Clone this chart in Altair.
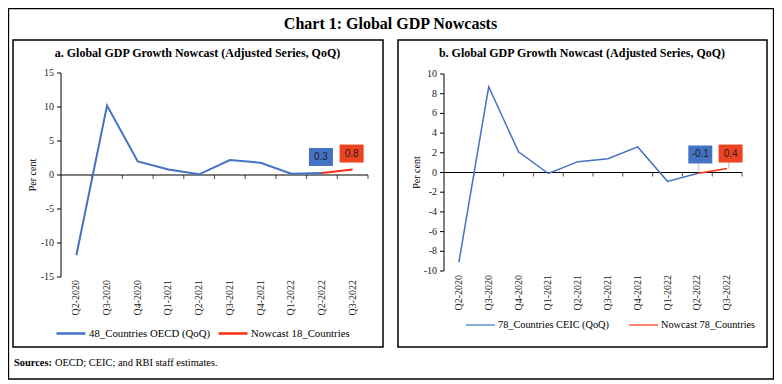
import altair as alt
import pandas as pd

# ---------------- data ----------------
quarters = ["Q2-2020", "Q3-2020", "Q4-2020", "Q1-2021", "Q2-2021",
            "Q3-2021", "Q4-2021", "Q1-2022", "Q2-2022", "Q3-2022"]

a_actual = [-11.8, 10.2, 2.0, 0.8, 0.1, 2.2, 1.8, 0.2, 0.3, None]
a_nowcast = [None, None, None, None, None, None, None, None, 0.3, 0.8]
a_series = ["48_Countries OECD (QoQ)", "Nowcast 18_Countries"]
a_yticks = [-15, -10, -5, 0, 5, 10, 15]

b_actual = [-9.1, 8.7, 2.1, -0.1, 1.1, 1.4, 2.6, -0.9, -0.1, None]
b_nowcast = [None, None, None, None, None, None, None, None, -0.1, 0.4]
b_series = ["78_Countries CEIC (QoQ)", "Nowcast 78_Countries"]
b_yticks = [-10, -8, -6, -4, -2, 0, 2, 4, 6, 8, 10]

main_title = "Chart 1: Global GDP Nowcasts"
a_title = "a. Global GDP Growth Nowcast (Adjusted Series, QoQ)"
b_title = "b. Global GDP Growth Nowcast (Adjusted Series, QoQ)"
y_title = "Per cent"
source_bold = "Sources:"
source_text = "OECD; CEIC; and RBI staff estimates."

# ---------------- style ----------------
FONT = "Liberation Serif"
SANS = "Liberation Sans"
BLUE = "#4472C4"
RED = "#FF2D12"
RED_BOX = "#EE4322"
W, H = 766, 374

one = pd.DataFrame({"k": [0]})


def txt(s, x, y, size, bold=False, align="center", angle=0, baseline="alphabetic", font=FONT):
    kw = dict(text=s, font=font, fontSize=size, align=align, baseline=baseline,
              color="black", fontWeight="bold" if bold else "normal")
    if angle:
        kw["angle"] = angle
    return alt.Chart(one).mark_text(**kw).encode(x=alt.value(x), y=alt.value(y))


def frame(x0, x1, y0, y1, sw):
    return alt.Chart(one).mark_rect(fillOpacity=0, stroke="black", strokeWidth=sw).encode(
        x=alt.value(x0), x2=alt.value(x1), y=alt.value(y0), y2=alt.value(y1))


def panel(actual, nowcast, series, yticks, title, box, xr, yr, title_x, ylab_y,
          ytitle_x, lw, leg, labels):
    x0, x1 = xr
    ybot, ytop = yr
    ydom = [yticks[0], yticks[-1]]
    step = (x1 - x0) / len(quarters)
    xs = alt.Scale(type="point", domain=quarters, range=[x0, x1], padding=0.5)
    ys = alt.Scale(domain=ydom, range=[ybot, ytop], nice=False, zero=False)
    X = alt.X("q:O", scale=xs, axis=None)

    rows = [{"q": q, "v": v, "s": series[0]} for q, v in zip(quarters, actual) if v is not None]
    rows += [{"q": q, "v": v, "s": series[1]} for q, v in zip(quarters, nowcast) if v is not None]
    df = pd.DataFrame(rows)

    layers = [frame(*box, 1.5), txt(title, title_x, box[2] + 17, 12, bold=True)]

    # y axis
    layers.append(alt.Chart(pd.DataFrame({"lo": [ydom[0]], "hi": [ydom[1]]})).mark_rule(
        color="black", strokeWidth=1).encode(
        x=alt.value(x0), y=alt.Y("lo:Q", scale=ys, axis=None), y2="hi:Q"))
    tdf = pd.DataFrame({"t": yticks, "lab": [str(t) for t in yticks]})
    layers.append(alt.Chart(tdf).mark_rule(color="black", strokeWidth=1).encode(
        x=alt.value(x0 - 4), x2=alt.value(x0), y=alt.Y("t:Q", scale=ys, axis=None)))
    layers.append(alt.Chart(tdf).mark_text(font=FONT, fontSize=10, align="right",
                                          baseline="middle", color="#222").encode(
        x=alt.value(x0 - 7), y=alt.Y("t:Q", scale=ys, axis=None), text="lab:N"))
    layers.append(txt(y_title, ytitle_x, (ybot + ytop) / 2, 10, angle=270,
                      baseline="middle"))

    # x axis at zero
    layers.append(alt.Chart(pd.DataFrame({"z": [0]})).mark_rule(color="black", strokeWidth=1).encode(
        x=alt.value(x0), x2=alt.value(x1), y=alt.Y("z:Q", scale=ys, axis=None)))
    qdf = pd.DataFrame({"q": quarters, "z": [0] * len(quarters)})
    layers.append(alt.Chart(qdf).mark_tick(orient="vertical", size=4, thickness=1,
                                          color="black", yOffset=2, xOffset=step / 2).encode(
        x=X, y=alt.Y("z:Q", scale=ys, axis=None)))
    layers.append(alt.Chart(qdf).mark_text(font=FONT, fontSize=10, angle=270, align="right",
                                          baseline="middle", color="#222").encode(
        x=X, y=alt.value(ylab_y), text="q:N"))

    # lines
    lx, ly, lcp, lsw, lfs = leg
    layers.append(alt.Chart(df).mark_line(strokeWidth=lw).encode(
        x=X, y=alt.Y("v:Q", scale=ys, axis=None),
        color=alt.Color("s:N", scale=alt.Scale(domain=series, range=[BLUE, RED]),
                        legend=alt.Legend(orient="none", legendX=lx, legendY=ly,
                                          direction="horizontal", title=None,
                                          symbolType="stroke", symbolSize=841,
                                          symbolStrokeWidth=lsw, labelFont=FONT,
                                          labelFontSize=lfs, labelColor="black",
                                          columnPadding=lcp, labelOffset=2,
                                          padding=0, rowPadding=0, gridAlign="none"))))

    # value labels
    for q, v, col, dx, dy, lead in labels:
        ldf = pd.DataFrame({"q": [q], "v": [v], "lab": [str(v)]})
        if lead:
            layers.append(alt.Chart(ldf).mark_tick(orient="vertical", size=lead, thickness=1,
                                                  color="#9a9a9a", xOffset=dx * 0.5,
                                                  yOffset=-lead / 2).encode(
                x=X, y=alt.Y("v:Q", scale=ys, axis=None)))
        layers.append(alt.Chart(ldf).mark_point(shape="M-1,-0.75H1V0.75H-1Z", filled=True,
                                               size=576, opacity=1, color=col, strokeWidth=0,
                                               xOffset=dx, yOffset=dy).encode(
            x=X, y=alt.Y("v:Q", scale=ys, axis=None)))
        layers.append(alt.Chart(ldf).mark_text(font=SANS, fontSize=10, color="#1e1e1e",
                                              baseline="middle", xOffset=dx, yOffset=dy).encode(
            x=X, y=alt.Y("v:Q", scale=ys, axis=None), text="lab:N"))
    return alt.layer(*layers)


panel_a = panel(a_actual, a_nowcast, a_series, a_yticks, a_title,
                box=(5, 375, 32, 339), xr=(53, 360), yr=(269, 65), title_x=189.5,
                ylab_y=272, ytitle_x=25, lw=2, leg=(47, 309.5, 2, 2.5, 10.8),
                labels=[(quarters[8], a_actual[8], BLUE, -1, -16, 0),
                        (quarters[9], a_nowcast[9], RED_BOX, -1, -16, 0)])

panel_b = panel(b_actual, b_nowcast, b_series, b_yticks, b_title,
                box=(390, 759, 32, 339), xr=(436, 734), yr=(263, 66), title_x=574,
                ylab_y=267, ytitle_x=409, lw=1.5, leg=(457, 301.5, 17, 1.2, 10.3),
                labels=[(quarters[8], b_actual[8], BLUE, 3, -19, 10),
                        (quarters[9], b_nowcast[9], RED_BOX, 3.5, -15, 6)])

chart = alt.layer(
    alt.Chart(one).mark_rect(fill="white", stroke="black", strokeWidth=1.3).encode(
        x=alt.value(0.5), x2=alt.value(W - 0.5), y=alt.value(0.5), y2=alt.value(H - 3)),
    txt(main_title, 382.5, 21, 16, bold=True),
    panel_a,
    panel_b,
    txt(source_bold, 6, 358, 10.4, bold=True, align="left"),
    txt(source_text, 47, 358, 10.4, align="left"),
).resolve_scale(
    x="independent", y="independent", color="independent"
).properties(
    width=W, height=H, autosize=alt.AutoSizeParams(type="none"), padding=0,
    background="white"
).configure_view(stroke=None)

chart.save("out.html", embed_options={"renderer": "svg", "actions": False})
